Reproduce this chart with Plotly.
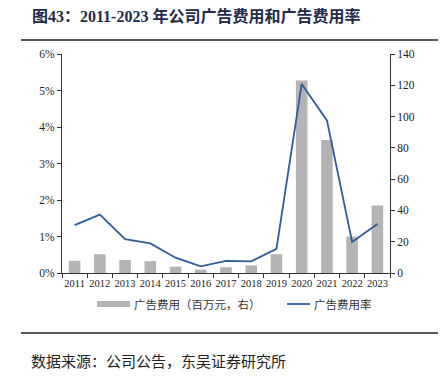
import plotly.graph_objects as go

years = ["2011", "2012", "2013", "2014", "2015", "2016", "2017",
         "2018", "2019", "2020", "2021", "2022", "2023"]
ad_expense = [7.8, 12.0, 8.3, 7.6, 4.1, 2.2, 3.7, 4.9, 12.0, 123.0, 85.0, 23.3, 43.2]
ad_ratio = [1.31, 1.60, 0.93, 0.81, 0.42, 0.18, 0.33, 0.32, 0.66, 5.18, 4.18, 0.85, 1.34]
ad_ratio_frac = [v / 100 for v in ad_ratio]

bar_name = "广告费用（百万元，右）"
line_name = "广告费用率"
title_text = "图43：2011-2023 年公司广告费用和广告费用率"
source_text = "数据来源：公司公告，东吴证券研究所"

FONT = "Liberation Serif, Noto Sans CJK SC, serif"
CJK = "Noto Sans CJK SC, sans-serif"
BAR_COLOR = "#B4B4B4"
LINE_COLOR = "#2F5D9B"

# page body has a default 8px margin; work in target-window pixels and shift
OFF = 8
W, H = 446 - OFF, 376 - OFF
L, R, T, B = 62 - OFF, 390 - OFF, 54 - OFF, 273 - OFF
pw, ph = R - L, B - T

def px(x):
    return (x - OFF - L) / pw

def py(y):
    return (B - (y - OFF)) / ph

fig = go.Figure()
# bars on the base axis (right side), line on the overlaying axis (left side) so it draws on top
fig.add_trace(go.Bar(
    x=years, y=ad_expense, name=bar_name, yaxis="y",
    marker=dict(color=BAR_COLOR, line=dict(width=0)),
))
fig.add_trace(go.Scatter(
    x=years, y=ad_ratio_frac, name=line_name, yaxis="y2",
    mode="lines", line=dict(color=LINE_COLOR, width=1.8),
))

axis_common = dict(showgrid=False, showline=True, linecolor="#333333", linewidth=1,
                   ticks="outside", ticklen=4, tickcolor="#333333", zeroline=False,
                   tickfont=dict(size=11.5, family=FONT, color="#222222"))

fig.update_layout(
    width=W, height=H,
    margin=dict(l=L, r=W - R, t=T, b=H - B, pad=0, autoexpand=False),
    paper_bgcolor="white", plot_bgcolor="white",
    font=dict(family=FONT, size=11, color="#222222"),
    bargap=0.54,
    showlegend=False,
    xaxis=dict(type="category", tickson="boundaries", tickangle=0, automargin=False,
               **{**axis_common, "tickfont": dict(size=10.5, family=FONT, color="#222222")}),
    yaxis=dict(range=[0, 140], dtick=20, side="right", automargin=False, **axis_common),
    yaxis2=dict(range=[0, 0.06], dtick=0.01, tickformat=".0%", overlaying="y", side="left",
                automargin=False, **axis_common),
    shapes=[
        dict(type="line", xref="paper", yref="paper", x0=px(21), x1=px(442),
             y0=py(40), y1=py(40), line=dict(color="#222222", width=1.5)),
        dict(type="line", xref="paper", yref="paper", x0=px(21), x1=px(442),
             y0=py(333), y1=py(333), line=dict(color="#222222", width=1.5)),
        # legend swatches
        dict(type="rect", xref="paper", yref="paper", x0=px(97), x1=px(130),
             y0=py(307), y1=py(301), fillcolor=BAR_COLOR, line=dict(width=0)),
        dict(type="line", xref="paper", yref="paper", x0=px(287), x1=px(310),
             y0=py(304), y1=py(304), line=dict(color=LINE_COLOR, width=1.8)),
    ],
    annotations=[
        dict(text="<b>" + title_text + "</b>", xref="paper", yref="paper",
             x=px(30), y=py(16), xanchor="left", yanchor="middle", showarrow=False,
             font=dict(size=16, family=FONT, color="#1F2A4A")),
        dict(text=bar_name, xref="paper", yref="paper",
             x=px(132), y=py(304), xanchor="left", yanchor="middle", showarrow=False,
             font=dict(size=11.5, family=CJK, color="#333333")),
        dict(text=line_name, xref="paper", yref="paper",
             x=px(312), y=py(304), xanchor="left", yanchor="middle", showarrow=False,
             font=dict(size=11.5, family=CJK, color="#333333")),
        dict(text=source_text, xref="paper", yref="paper",
             x=px(29), y=py(360), xanchor="left", yanchor="middle", showarrow=False,
             font=dict(size=15, family=CJK, color="#222222")),
    ],
)

fig.write_html("out.html")
